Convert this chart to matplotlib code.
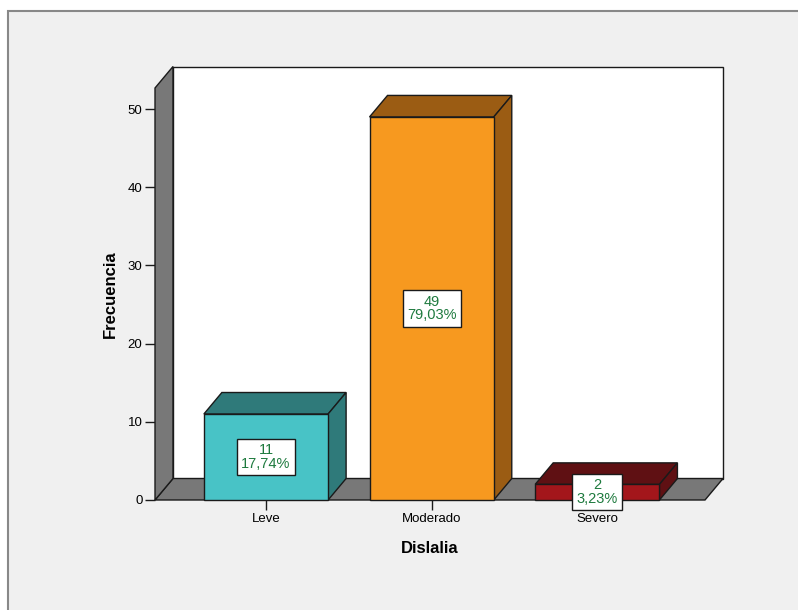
import matplotlib.pyplot as plt
from matplotlib.patches import Polygon, Rectangle

categories = ['Leve', 'Moderado', 'Severo']
counts = [11, 49, 2]
front_colors = ['#48C3C6', '#F7991F', '#A3161B']
dark_colors = ['#2F7A7A', '#9B5C13', '#5F1013']

plt.rcParams['font.family'] = ['Liberation Sans', 'DejaVu Sans']

W, H = 798, 610
fig = plt.figure(figsize=(W / 100, H / 100), dpi=100, facecolor='white')

# grey panel with frame
fig.patches.append(Rectangle((8 / W, -0.01), 1.0, (H - 11) / H + 0.01, transform=fig.transFigure,
                             facecolor='#F0F0F0', edgecolor='#888888', linewidth=1.5, zorder=-5))

# front plotting region in pixels: x 155..705, y 500..88
ax = fig.add_axes([155 / W, (H - 500) / H, 550 / W, 412 / H])
ax.set_zorder(2)
ax.set_facecolor('none')
x0, x1 = -0.67, 2.65
ytop = 52.7
ax.set_xlim(x0, x1)
ax.set_ylim(0, ytop)
for s in ax.spines.values():
    s.set_visible(False)

dx = 18 / 165.75     # depth offset in x units
dy = 21.5 / 7.82     # depth offset in y units
w = 0.75
lw = 1.0

def poly(pts, fc, z):
    ax.add_patch(Polygon(pts, closed=True, facecolor=fc, edgecolor='#1a1a1a',
                         linewidth=lw, clip_on=False, zorder=z, joinstyle='miter'))

# walls
poly([(x0 + dx, dy), (x1 + dx, dy), (x1 + dx, ytop + dy), (x0 + dx, ytop + dy)], 'white', 1)
poly([(x0, 0), (x1, 0), (x1 + dx, dy), (x0 + dx, dy)], '#787878', 2)
poly([(x0, 0), (x0 + dx, dy), (x0 + dx, ytop + dy), (x0, ytop)], '#787878', 2)

total = sum(counts)
for i, (v, fc, dc) in enumerate(zip(counts, front_colors, dark_colors)):
    l, r = i - w / 2, i + w / 2
    poly([(l, v), (r, v), (r + dx, v + dy), (l + dx, v + dy)], dc, 3 + i)
    poly([(r, 0), (r + dx, dy), (r + dx, v + dy), (r, v)], dc, 3 + i)
    poly([(l, 0), (r, 0), (r, v), (l, v)], fc, 3 + i)

for i, v in enumerate(counts):
    pct = f'{100 * v / total:.2f}'.replace('.', ',')
    ax.text(i, v / 2, f'{v}\n{pct}%', ha='center', va='center', fontsize=10.5,
            color='#1E7A3E', linespacing=0.95, zorder=10,
            bbox=dict(boxstyle='square,pad=0.3', facecolor='white', edgecolor='#1a1a1a', linewidth=1))

ax.set_yticks([0, 10, 20, 30, 40, 50])
ax.set_xticks(range(len(categories)))
ax.set_xticklabels(categories)
ax.tick_params(axis='both', length=7, width=1, color='#1a1a1a', labelsize=9.5, pad=2)
ax.set_ylabel('Frecuencia', fontsize=12, fontweight='bold', labelpad=7)
ax.set_xlabel('Dislalia', fontsize=12, fontweight='bold', labelpad=12)

fig.savefig('out.png', dpi=100, facecolor=fig.get_facecolor())
